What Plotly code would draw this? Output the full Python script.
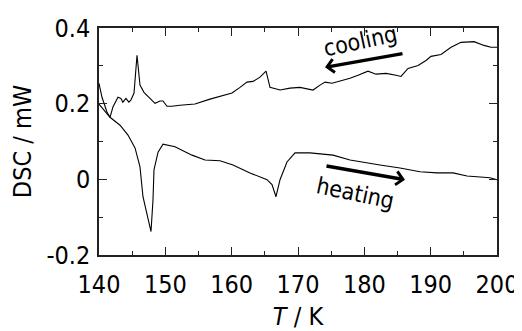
import plotly.graph_objects as go

# Cooling curve (upper trace)
cool_T = [140.0, 140.45, 141.2, 141.66, 142.1, 142.86, 143.3, 143.6, 144.07, 144.5, 144.8, 145.28,
          145.73, 146.18, 146.78, 147.24, 147.84, 148.44, 149.2, 149.65, 150.25, 151.0, 152.2, 154.47,
          156.73, 158.24, 160.05, 161.26, 162.31, 163.22, 164.27, 165.18, 165.78, 167.29, 168.8, 170.3,
          172.26, 173.32, 174.07, 175.13, 176.33, 177.84, 179.05, 180.55, 181.76, 183.27, 184.78, 185.53,
          186.59, 188.1, 189.3, 190.05, 191.56, 193.07, 194.58, 196.54, 198.04, 199.1, 200.0]
cool_DSC = [0.254, 0.217, 0.178, 0.164, 0.191, 0.217, 0.214, 0.204, 0.214, 0.204, 0.209, 0.228,
            0.328, 0.249, 0.230, 0.222, 0.209, 0.201, 0.207, 0.207, 0.193, 0.193, 0.196, 0.199,
            0.212, 0.220, 0.228, 0.243, 0.257, 0.259, 0.270, 0.286, 0.243, 0.236, 0.241, 0.243,
            0.236, 0.249, 0.257, 0.254, 0.259, 0.267, 0.275, 0.286, 0.278, 0.280, 0.275, 0.272,
            0.293, 0.301, 0.314, 0.325, 0.330, 0.349, 0.362, 0.364, 0.354, 0.349, 0.349]

# Heating curve (lower trace)
heat_T = [140.0, 141.66, 143.17, 144.37, 145.43, 146.18, 146.63, 147.39, 147.84, 148.14, 148.29,
          148.9, 149.65, 151.46, 154.02, 155.98, 158.24, 160.2, 162.76, 165.33, 166.08, 166.68,
          167.29, 168.34, 169.55, 171.81, 175.28, 177.84, 179.35, 182.36, 185.38, 188.39, 190.96,
          193.37, 195.48, 197.44, 198.95, 200.0]
heat_DSC = [0.199, 0.164, 0.143, 0.117, 0.083, 0.033, -0.046, -0.099, -0.138, -0.054, 0.025,
            0.072, 0.093, 0.086, 0.064, 0.051, 0.049, 0.038, 0.017, -0.001, -0.014, -0.046,
            -0.001, 0.046, 0.070, 0.070, 0.064, 0.051, 0.046, 0.038, 0.030, 0.020, 0.017,
            0.017, 0.009, 0.007, 0.004, -0.001]

x_ticks = [140, 150, 160, 170, 180, 190, 200]
y_ticks = [-0.2, 0, 0.2, 0.4]
y_ticklabels = ["-0.2", "0", "0.2", "0.4"]

FONT = "DejaVu Sans Condensed, DejaVu Sans, sans-serif"

fig = go.Figure()
fig.add_trace(go.Scatter(x=cool_T, y=cool_DSC, mode="lines",
                         line=dict(color="black", width=1.1), showlegend=False))
fig.add_trace(go.Scatter(x=heat_T, y=heat_DSC, mode="lines",
                         line=dict(color="black", width=1.1), showlegend=False))

axis_common = dict(showgrid=False, zeroline=False, showline=True, linecolor="#222",
                   linewidth=1.5, mirror="ticks", ticks="inside", ticklen=8,
                   tickcolor="#222", tickwidth=1.2, automargin=False,
                   tickfont=dict(family=FONT, size=25, color="black"))

fig.update_xaxes(range=[140, 200], tickvals=x_ticks, ticklabelstandoff=6,
                 minor=dict(ticks="inside", ticklen=4, dtick=5, tick0=140,
                            tickcolor="#222", tickwidth=1.2),
                 title=dict(text="<i>T</i> / K", font=dict(family=FONT, size=25, color="black"),
                            standoff=10),
                 **axis_common)
fig.update_yaxes(range=[-0.2, 0.4], tickvals=y_ticks, ticktext=y_ticklabels,
                 ticklabelstandoff=2,
                 minor=dict(ticks="inside", ticklen=4, dtick=0.1, tick0=-0.2,
                            tickcolor="#222", tickwidth=1.2),
                 title=dict(text="DSC / mW", font=dict(family=FONT, size=25, color="black"),
                            standoff=8),
                 **axis_common)

fig.add_annotation(x=174.07, y=0.296, ax=185.98, ay=0.333, xref="x", yref="y",
                   axref="x", ayref="y", text="", showarrow=True, arrowhead=4,
                   arrowsize=0.75, arrowwidth=3.5, arrowcolor="black")
fig.add_annotation(x=186.13, y=-0.001, ax=174.07, ay=0.036, xref="x", yref="y",
                   axref="x", ayref="y", text="", showarrow=True, arrowhead=4,
                   arrowsize=0.75, arrowwidth=3.5, arrowcolor="black")
fig.add_annotation(x=179.4, y=0.366, xref="x", yref="y", text="cooling", showarrow=False,
                   textangle=-12, font=dict(family=FONT, size=23, color="black"))
fig.add_annotation(x=178.6, y=-0.037, xref="x", yref="y", text="heating", showarrow=False,
                   textangle=12, font=dict(family=FONT, size=23, color="black"))

# page body adds an 8px offset, so the figure is sized to fit the 522x331 window
fig.update_layout(width=514, height=323, margin=dict(l=91, r=25, t=20, b=76),
                  plot_bgcolor="white", paper_bgcolor="white",
                  font=dict(family=FONT, color="black"))

fig.write_html("out.html")
